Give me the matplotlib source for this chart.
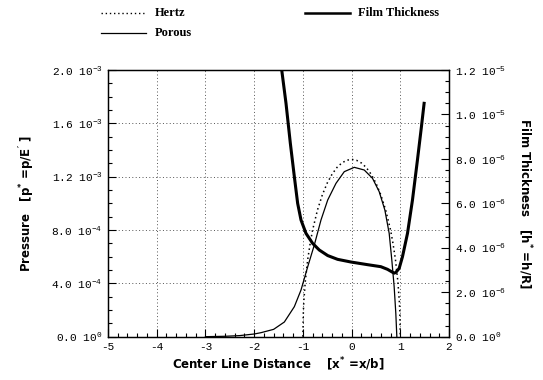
import matplotlib
matplotlib.use("Agg")
import matplotlib.pyplot as plt
from matplotlib.lines import Line2D
from matplotlib.ticker import MultipleLocator, FixedLocator

# ---- data ----
hertz_x = [-1.0, -0.99, -0.98, -0.95, -0.9, -0.85, -0.8, -0.7, -0.6, -0.5, -0.4, -0.3, -0.2,
           -0.1, 0.0, 0.1, 0.2, 0.3, 0.4, 0.5, 0.6, 0.7, 0.8, 0.85, 0.9, 0.95, 0.98, 0.99, 1.0]
hertz_p = [0.0, 0.188e-3, 0.265e-3, 0.415e-3, 0.58e-3, 0.70e-3, 0.80e-3, 0.95e-3, 1.064e-3,
           1.152e-3, 1.219e-3, 1.269e-3, 1.303e-3, 1.323e-3, 1.33e-3, 1.323e-3, 1.303e-3,
           1.269e-3, 1.219e-3, 1.152e-3, 1.064e-3, 0.95e-3, 0.80e-3, 0.70e-3, 0.58e-3,
           0.415e-3, 0.265e-3, 0.188e-3, 0.0]

porous_x = [-3.0, -2.6, -2.3, -2.0, -1.86, -1.6, -1.38, -1.175, -1.038, -0.90, -0.765, -0.628,
            -0.49, -0.32, -0.15, 0.055, 0.26, 0.43, 0.567, 0.683, 0.772, 0.826, 0.874, 0.908,
            0.929]
porous_p = [0.0, 0.003e-3, 0.008e-3, 0.02e-3, 0.03e-3, 0.055e-3, 0.11e-3, 0.225e-3, 0.35e-3,
            0.525e-3, 0.6875e-3, 0.875e-3, 1.025e-3, 1.15e-3, 1.2375e-3, 1.27e-3, 1.25e-3,
            1.1875e-3, 1.0875e-3, 0.95e-3, 0.775e-3, 0.575e-3, 0.375e-3, 0.175e-3, 0.0]

film_x = [-1.434, -1.346, -1.257, -1.175, -1.107, -1.038, -0.936, -0.80, -0.663, -0.49,
          -0.287, -0.014, 0.328, 0.60, 0.738, 0.84, 0.875, 0.908, 0.977, 1.045, 1.148, 1.25,
          1.352, 1.434, 1.489]
film_h = [1.2e-5, 1.05e-5, 0.87e-5, 0.72e-5, 0.60e-5, 0.525e-5, 0.465e-5, 0.42e-5, 0.39e-5,
          0.365e-5, 0.348e-5, 0.336e-5, 0.324e-5, 0.315e-5, 0.303e-5, 0.29e-5, 0.286e-5,
          0.289e-5, 0.3075e-5, 0.36e-5, 0.465e-5, 0.615e-5, 0.795e-5, 0.945e-5, 1.05e-5]

x_ticks = [-5, -4, -3, -2, -1, 0, 1, 2]
p_ticks = [0.0, 4e-4, 8e-4, 1.2e-3, 1.6e-3, 2.0e-3]
p_labels = ["0.0 10$^{0}$", "4.0 10$^{-4}$", "8.0 10$^{-4}$", "1.2 10$^{-3}$",
            "1.6 10$^{-3}$", "2.0 10$^{-3}$"]
h_ticks = [0.0, 2e-6, 4e-6, 6e-6, 8e-6, 1.0e-5, 1.2e-5]
h_labels = ["0.0 10$^{0}$", "2.0 10$^{-6}$", "4.0 10$^{-6}$", "6.0 10$^{-6}$",
            "8.0 10$^{-6}$", "1.0 10$^{-5}$", "1.2 10$^{-5}$"]

plt.rcParams['mathtext.default'] = 'regular'
tickfont = dict(family='Liberation Mono', size=8)

fig = plt.figure(figsize=(5.43, 3.80), dpi=100)
ax = fig.add_axes([0.1989, 0.1140, 0.628, 0.7018])
ax2 = ax.twinx()

ax.plot(hertz_x, hertz_p, color='black', lw=1.1, linestyle=(0, (1, 2)))
ax.plot(porous_x, porous_p, color='black', lw=0.9)
ax2.plot(film_x, film_h, color='black', lw=2.2, solid_joinstyle='round')

ax.set_xlim(-5, 2)
ax.set_ylim(0, 2.0e-3)
ax2.set_ylim(0, 1.2e-5)

ax.xaxis.set_major_locator(FixedLocator(x_ticks))
ax.xaxis.set_minor_locator(MultipleLocator(0.2))
ax.yaxis.set_major_locator(FixedLocator(p_ticks))
ax.yaxis.set_minor_locator(MultipleLocator(1e-4))
ax.set_yticklabels(p_labels, **tickfont)
ax.set_xticklabels([str(v) for v in x_ticks], **tickfont)
ax2.yaxis.set_major_locator(FixedLocator(h_ticks))
ax2.yaxis.set_minor_locator(MultipleLocator(5e-7))
ax2.set_yticklabels(h_labels, **tickfont)

for a in (ax, ax2):
    a.tick_params(which='both', direction='in', top=False, width=0.8, color='black')
    a.tick_params(which='major', length=6)
    a.tick_params(which='minor', length=3)
    for s in a.spines.values():
        s.set_linewidth(0.9)
ax.tick_params(axis='both', which='major', pad=4)
ax2.tick_params(axis='y', which='major', pad=4)

ax.grid(True, which='major', color='#555555', linestyle=(0, (1, 2.5)), lw=0.7)

lblfont = dict(family='DejaVu Sans', size=8.5, weight='bold')
ax.set_xlabel("Center Line Distance    [x$^{*}$ =x/b]", labelpad=2, **lblfont)
ax.set_ylabel("Pressure   [p$^{*}$ =p/E$^{\\prime}$ ]", labelpad=10, **lblfont)
ax2.set_ylabel("Film Thickness   [h$^{*}$ =h/R]", rotation=-90, labelpad=20, **lblfont)

# legend drawn manually in figure coords
def fx(px):
    return px / 543.0

def fy(py):
    return 1 - py / 380.0

legfont = dict(family='Liberation Serif', size=9, weight='bold')
fig.add_artist(Line2D([fx(101), fx(144)], [fy(13), fy(13)], color='black', lw=1.0,
                      linestyle=(0, (1, 2))))
fig.text(fx(155), fy(13), "Hertz", va='center', ha='left', **legfont)
fig.add_artist(Line2D([fx(101), fx(146)], [fy(33), fy(33)], color='black', lw=0.9))
fig.text(fx(155), fy(33), "Porous", va='center', ha='left', **legfont)
fig.add_artist(Line2D([fx(305), fx(350)], [fy(13), fy(13)], color='black', lw=1.8))
fig.text(fx(358), fy(13), "Film Thickness", va='center', ha='left', **legfont)

fig.savefig("out.png", dpi=100)
